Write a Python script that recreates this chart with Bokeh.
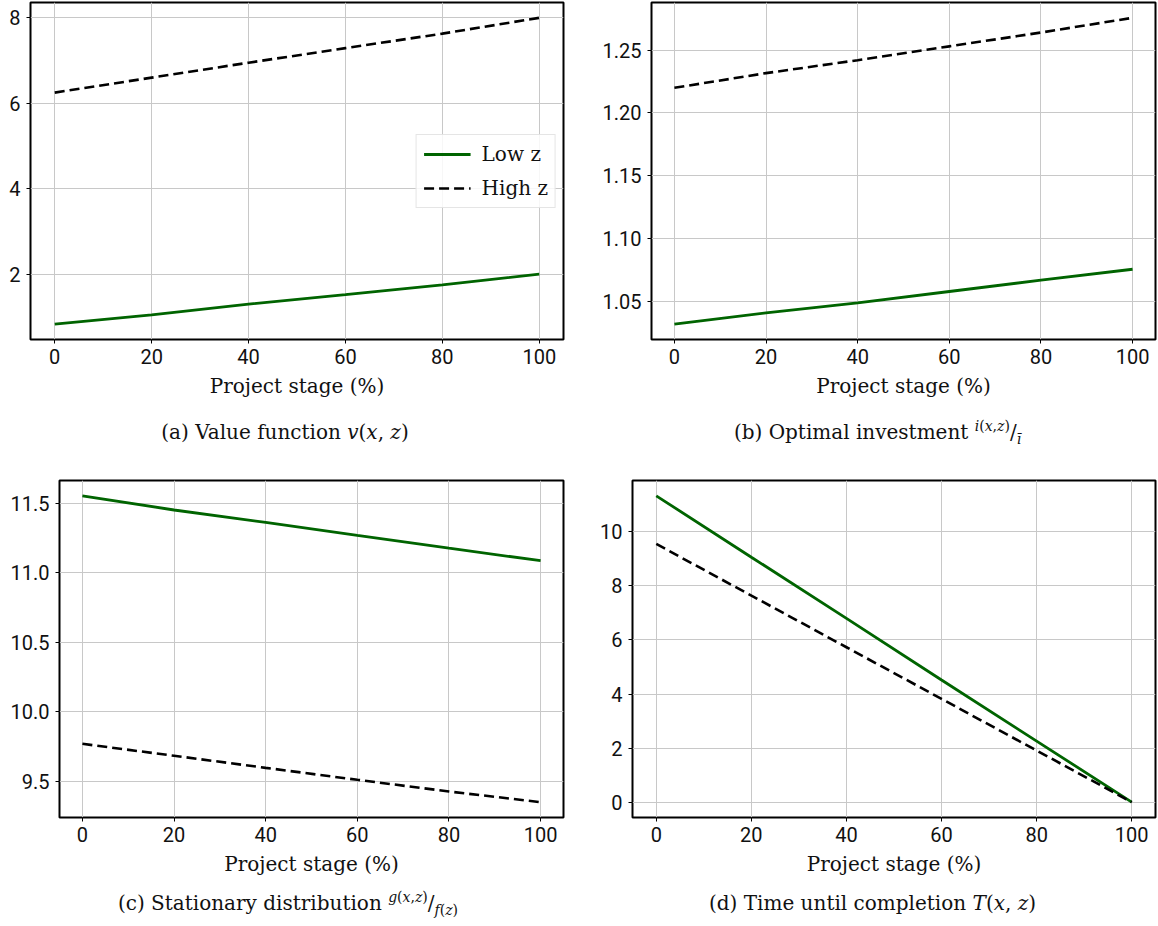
from bokeh.plotting import figure
from bokeh.models import Range1d, FixedTicker, NumeralTickFormatter, Legend, LegendItem, Div
from bokeh.layouts import column, row
from bokeh.embed import file_html
from bokeh.resources import INLINE

# ---- data ----
stage = [0, 20, 40, 60, 80, 100]
v_low = [0.83, 1.05, 1.30, 1.52, 1.75, 2.00]
v_high = [6.25, 6.60, 6.95, 7.29, 7.63, 8.00]
i_low = [1.032, 1.041, 1.049, 1.058, 1.067, 1.0757]
i_high = [1.220, 1.2317, 1.242, 1.253, 1.264, 1.2757]
g_low = [11.555, 11.453, 11.364, 11.27, 11.178, 11.088]
g_high = [9.771, 9.685, 9.598, 9.512, 9.428, 9.351]
t_low = [11.33, 9.06, 6.80, 4.52, 2.26, 0.0]
t_high = [9.55, 7.64, 5.73, 3.82, 1.91, 0.0]

x_ticks = [0, 20, 40, 60, 80, 100]
v_ticks = [2, 4, 6, 8]
i_ticks = [1.05, 1.10, 1.15, 1.20, 1.25]
g_ticks = [9.5, 10.0, 10.5, 11.0, 11.5]
t_ticks = [0, 2, 4, 6, 8, 10]

x_label = "Project stage (%)"
legend_labels = ["Low z", "High z"]

GREEN = "#006400"
SERIF = "DejaVu Serif"
TICKFONT = "Roboto"


def padded(vals, frac=0.05):
    lo, hi = min(vals), max(vals)
    d = (hi - lo) * frac
    return Range1d(lo - d, hi + d)


def make_panel(low, high, yticks, fmt, width, height, left, right, top, bottom, legend=False):
    p = figure(width=width, height=height, output_backend="svg", toolbar_location=None,
               min_border_left=left, min_border_right=right,
               min_border_top=top, min_border_bottom=bottom,
               x_range=padded(stage), y_range=padded(low + high),
               background_fill_color="white", border_fill_color="white")
    p.margin = (0, 0, 0, 0)
    p.outline_line_color = "black"
    p.outline_line_width = 2
    p.xaxis.ticker = FixedTicker(ticks=x_ticks)
    p.yaxis.ticker = FixedTicker(ticks=yticks)
    if fmt:
        p.yaxis.formatter = NumeralTickFormatter(format=fmt)
    for ax in (p.xaxis[0], p.yaxis[0]):
        ax.axis_line_color = None
        ax.major_tick_out = 4
        ax.major_tick_in = 0
        ax.major_tick_line_color = "black"
        ax.major_tick_line_width = 1
        ax.minor_tick_line_color = None
        ax.major_label_text_font = TICKFONT
        ax.major_label_text_font_size = "20px"
        ax.major_label_text_color = "#111111"
    p.xaxis.major_label_standoff = 5
    p.yaxis.major_label_standoff = 6
    p.xaxis.axis_label = x_label
    p.xaxis.axis_label_text_font = SERIF
    p.xaxis.axis_label_text_font_style = "normal"
    p.xaxis.axis_label_text_font_size = "20px"
    p.xaxis.axis_label_standoff = 7
    p.xaxis.axis_label_text_color = "#111111"
    p.grid.grid_line_color = "#c8c8c8"
    p.grid.grid_line_width = 1
    p.xgrid.ticker = FixedTicker(ticks=x_ticks)
    p.ygrid.ticker = FixedTicker(ticks=yticks)

    r1 = p.line(stage, low, line_color=GREEN, line_width=2.8)
    r2 = p.line(stage, high, line_color="black", line_width=2.6, line_dash="10 5")
    if legend:
        lg = Legend(items=[LegendItem(label=legend_labels[0], renderers=[r1]),
                           LegendItem(label=legend_labels[1], renderers=[r2])],
                    location="center_right", margin=7, padding=7, spacing=10,
                    glyph_width=47, glyph_height=24, label_height=24, label_standoff=11,
                    label_text_font=SERIF, label_text_font_size="20px",
                    label_text_color="#111111",
                    border_line_color="#cccccc", border_line_width=1,
                    background_fill_color="white", background_fill_alpha=0.85)
        p.add_layout(lg, "center")
    return p


def caption(html, width, height, pad_top, pad_left):
    inner_w = width - pad_left
    return Div(text=("<div style=\"display:block;width:%dpx;margin-left:%dpx;padding-top:%dpx;"
                     "font-family:'DejaVu Serif';font-size:20px;line-height:24px;"
                     "color:#111;text-align:center;\">%s</div>"
                     % (inner_w, pad_left, pad_top, html)),
               width=width, height=height, margin=(0, 0, 0, 0))


TOP_H, BOT_H = 404, 422
pa = make_panel(v_low, v_high, v_ticks, None, 580, TOP_H, 30, 17, 2, 65, legend=True)
pb = make_panel(i_low, i_high, i_ticks, "0.00", 577, TOP_H, 71, 2, 2, 65)
pc = make_panel(g_low, g_high, g_ticks, "0.0", 580, BOT_H, 59, 17, 19, 66)
pd = make_panel(t_low, t_high, t_ticks, None, 577, BOT_H, 52, 2, 19, 66)

ca = caption("(a) Value function <i>v</i>(<i>x</i>, <i>z</i>)", 570, 57, 16, 0)
cb = caption("(b) Optimal investment <sup style='font-size:14px'><i>i</i>(<i>x</i>,<i>z</i>)</sup>/"
             "<sub style='font-size:14px'><i>&#299;</i></sub>", 577, 57, 10, 18)
cc = caption("(c) Stationary distribution <sup style='font-size:14px'><i>g</i>(<i>x</i>,<i>z</i>)</sup>/"
             "<sub style='font-size:14px'><i>f</i>(<i>z</i>)</sub>", 576, 36, 2, 0)
cd = caption("(d) Time until completion <i>T</i>(<i>x</i>, <i>z</i>)", 577, 36, 8, 8)

layout = column(
    row(column(pa, ca, spacing=0), column(pb, cb, spacing=0), spacing=0),
    row(column(pc, cc, spacing=0), column(pd, cd, spacing=0), spacing=0),
    spacing=0)

open("out.html", "w").write(file_html(layout, INLINE))
